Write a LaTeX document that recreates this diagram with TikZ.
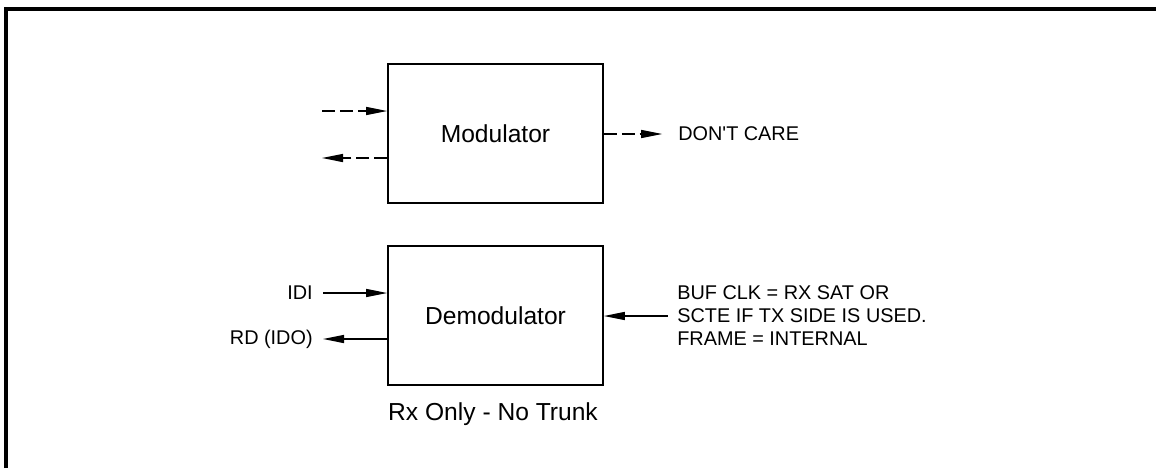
\documentclass[tikz,border=0pt]{standalone}
\usepackage{fontspec}
\setmainfont{Liberation Sans}
\usetikzlibrary{arrows.meta}
\begin{document}
\begin{tikzpicture}[x=0.02cm,y=-0.02cm,
  blockbox/.style={draw,line width=1pt,minimum width=4.3cm,minimum height=2.78cm,inner sep=0pt,font=\fontsize{14}{16.8}\selectfont},
  lbl/.style={inner sep=0pt,font=\fontsize{11.3}{13.1}\selectfont},
  arr/.style={line width=0.7pt,-{Triangle[length=12pt,width=4.6pt]}},
  darr/.style={arr,dash pattern=on 7.4pt off 2.8pt}]
\useasboundingbox (0,0) rectangle (1156,468);
% partial frame
\draw[line width=2.3pt,miter limit=10] (6,468) -- (6,9) -- (1156,9);
% blocks
\node[blockbox] (mod) at (495.5,133.5) {Modulator};
\node[blockbox] (demod) at (495.5,315.5) {Demodulator};
\node[inner sep=0pt,font=\fontsize{14}{16.8}\selectfont] (cap) at (493,414) {Rx Only - No Trunk};
% modulator connectors
\coordinate (min) at (322,111);
\coordinate (mout) at (322,158);
\draw[darr] (min) -- (min -| mod.west);
\draw[darr] (mout -| mod.west) -- (mout);
\node[lbl,anchor=west] (dc) at (678,134) {DON\textquotesingle T CARE};
\draw[darr] (mod.east |- dc.west) -- ([xshift=-9pt]dc.west);
% demodulator connectors
\node[lbl,anchor=east] (idi) at (313,293) {IDI};
\node[lbl,anchor=east] (rd) at (313,339) {RD (IDO)};
\draw[arr] ([xshift=5.7pt]idi.east) -- (idi.east -| demod.west);
\draw[arr] (rd.east -| demod.west) -- ([xshift=5.7pt]rd.east);
\node[lbl,anchor=west,align=left] (buf) at (677,316) {BUF CLK = RX SAT OR\\SCTE IF TX SIDE IS USED.\\FRAME = INTERNAL};
\draw[arr] ([xshift=-5.2pt]buf.west) -- (buf.west -| demod.east);
\end{tikzpicture}
\end{document}
